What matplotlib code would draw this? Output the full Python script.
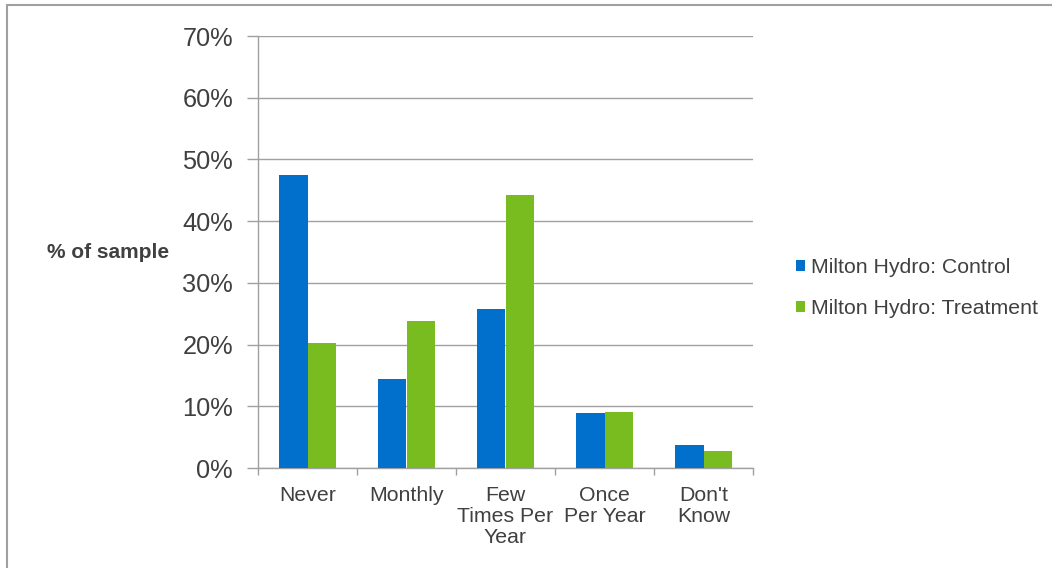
import matplotlib.pyplot as plt
import numpy as np
from matplotlib.patches import Rectangle

plt.rcParams['font.family'] = ['Liberation Sans', 'DejaVu Sans']

# datos
categorias = ['Never', 'Monthly', 'Few\nTimes Per\nYear', 'Once\nPer Year', "Don't\nKnow"]
control = [47.4, 14.4, 25.7, 8.9, 3.7]
tratamiento = [20.2, 23.9, 44.2, 9.0, 2.7]
series = ['Milton Hydro: Control', 'Milton Hydro: Treatment']

azul = '#0070CC'
verde = '#78BC20'
gris_txt = '#404040'
gris_lin = '#A0A0A0'

fig = plt.figure(figsize=(10.52, 5.68), dpi=100)
ax = fig.add_axes([258/1052, 1-468/568, 495/1052, 432/568])

x = np.arange(len(categorias))
w = 0.29
ax.bar(x - w/2, control, w, color=azul, label=series[0], zorder=3)
ax.bar(x + w/2, tratamiento, w, color=verde, label=series[1], zorder=3)

ax.set_xlim(-0.5, len(categorias) - 0.5)
ax.set_ylim(0, 70)
ax.set_yticks(np.arange(0, 71, 10))
ax.set_yticklabels(['{}%'.format(v) for v in range(0, 71, 10)], fontsize=18.3, color=gris_txt)
ax.yaxis.grid(True, color=gris_lin, linewidth=1, zorder=0)

# ticks del eje x en los limites de categoria, etiquetas centradas
ax.set_xticks(np.arange(len(categorias) + 1) - 0.5)
ax.set_xticklabels([])
ax.set_xticks(x, minor=True)
ax.set_xticklabels(categorias, minor=True, fontsize=15.3, color=gris_txt, linespacing=1.12, va='top')
ax.tick_params(axis='x', which='minor', length=0, pad=13)
ax.tick_params(axis='x', which='major', length=5, color=gris_lin, width=1)
ax.tick_params(axis='y', length=8, color=gris_lin, width=1, pad=10)

for s in ['top', 'right']:
    ax.spines[s].set_visible(False)
for s in ['left', 'bottom']:
    ax.spines[s].set_color(gris_lin)
    ax.spines[s].set_linewidth(1)

fig.text(108/1052, 1-253/568, '% of sample', ha='center', va='center',
         fontsize=15, fontweight='bold', color=gris_txt)

leg = fig.legend(loc='center left', bbox_to_anchor=(777/1052, 1-288/568), frameon=False,
                 fontsize=15.3, handlelength=0.42, handleheight=0.42, handletextpad=0.28,
                 labelspacing=1.0, labelcolor=gris_txt)

fig.patches.append(Rectangle((7/1052, -0.1), 1.1, 1-5/568 + 0.1, transform=fig.transFigure,
                             fill=False, edgecolor='#A0A0A0', linewidth=1.5))

fig.savefig('out.png', dpi=100)
